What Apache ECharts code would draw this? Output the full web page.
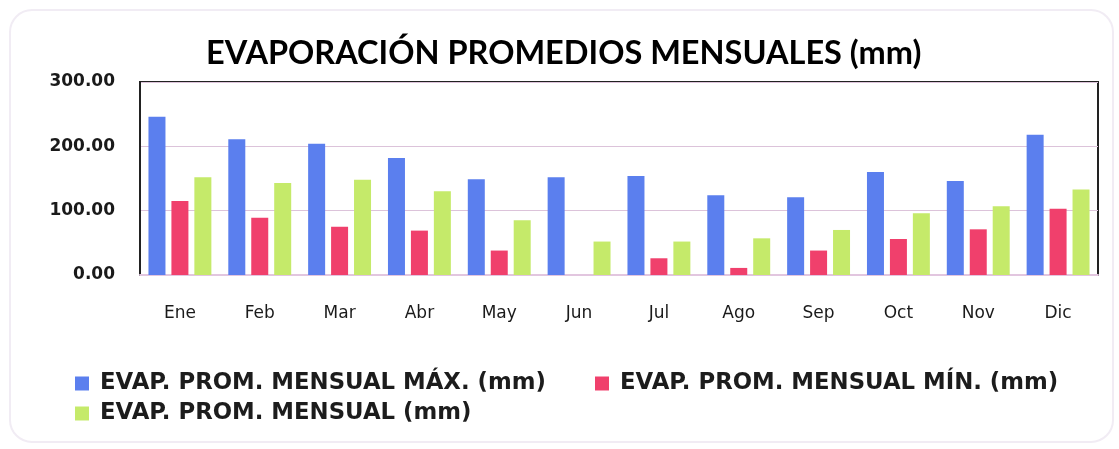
<!DOCTYPE html>
<html><head><meta charset="utf-8">
<script src="https://cdn.jsdelivr.net/npm/echarts@6/dist/echarts.min.js"></script>
<style>html,body{margin:0;padding:0;background:#fff}#c{width:1119px;height:449px}</style>
</head><body><div id="c"></div>
<script>
var months = ['Ene','Feb','Mar','Abr','May','Jun','Jul','Ago','Sep','Oct','Nov','Dic'];
var evapMax = [246, 211, 204, 182, 149, 152, 154, 124, 121, 160, 146, 218];
var evapMin = [115, 89, 75, 69, 38, 0, 26, 11, 38, 56, 71, 103];
var evapAvg = [152, 143, 148, 130, 85, 52, 52, 57, 70, 96, 107, 133];
var yTicks = [0, 100, 200, 300];
var names = ['EVAP. PROM. MENSUAL MÁX. (mm)', 'EVAP. PROM. MENSUAL MÍN. (mm)', 'EVAP. PROM. MENSUAL (mm)'];

var chart = echarts.init(document.getElementById('c'), null, {renderer:'canvas'});
var legendText = {fontFamily:'DejaVu Sans', fontWeight:'bold', fontSize:22.8, color:'#1c1c1c', padding:[0,0,0,6]};
function lg(name, left, top){
  return {data:[name], left:left, top:top, itemWidth:14, itemHeight:14, itemGap:6, icon:'rect', textStyle:legendText, padding:0};
}
chart.setOption({
  animation:false,
  backgroundColor:'#fff',
  color:['#5B7FEE','#F0406C','#C5EA6A'],
  graphic:[{type:'rect', shape:{x:10,y:10,width:1103,height:432,r:22}, style:{fill:'none', stroke:'#F1ECF4', lineWidth:2}, z:-1}],
  title:{text:'EVAPORACIÓN PROMEDIOS MENSUALES (mm)', left:201, top:32,
    textStyle:{fontFamily:'Lato', fontWeight:'bold', fontSize:32.5, color:'#000'}},
  legend:[
    lg(names[0], 75, 372),
    lg(names[1], 595, 372),
    lg(names[2], 75, 402)
  ],
  grid:{left:140, right:21, top:82, bottom:174, show:true, borderColor:'#222', borderWidth:2, backgroundColor:'transparent'},
  xAxis:{type:'category', data:months,
    axisLine:{show:true, lineStyle:{color:'#E2C6DF', width:2}},
    axisTick:{show:false},
    axisLabel:{margin:30, fontFamily:'DejaVu Sans', fontSize:17, color:'#1a1a1a'}},
  yAxis:{type:'value', min:yTicks[0], max:yTicks[yTicks.length-1], interval:100,
    axisLine:{show:true, lineStyle:{color:'#222', width:2}},
    axisTick:{show:false},
    splitLine:{lineStyle:{color:'#DCC3DA', width:1}},
    axisLabel:{margin:25, fontFamily:'DejaVu Sans', fontWeight:'bold', fontSize:17, color:'#1a1a1a',
      formatter:function(v){return v.toFixed(2);}}},
  series:[
    {name:names[0], type:'bar', data:evapMax, barWidth:17, barGap:'35%'},
    {name:names[1], type:'bar', data:evapMin, barWidth:17, barGap:'35%'},
    {name:names[2], type:'bar', data:evapAvg, barWidth:17, barGap:'35%'}
  ]
});
</script></body></html>
